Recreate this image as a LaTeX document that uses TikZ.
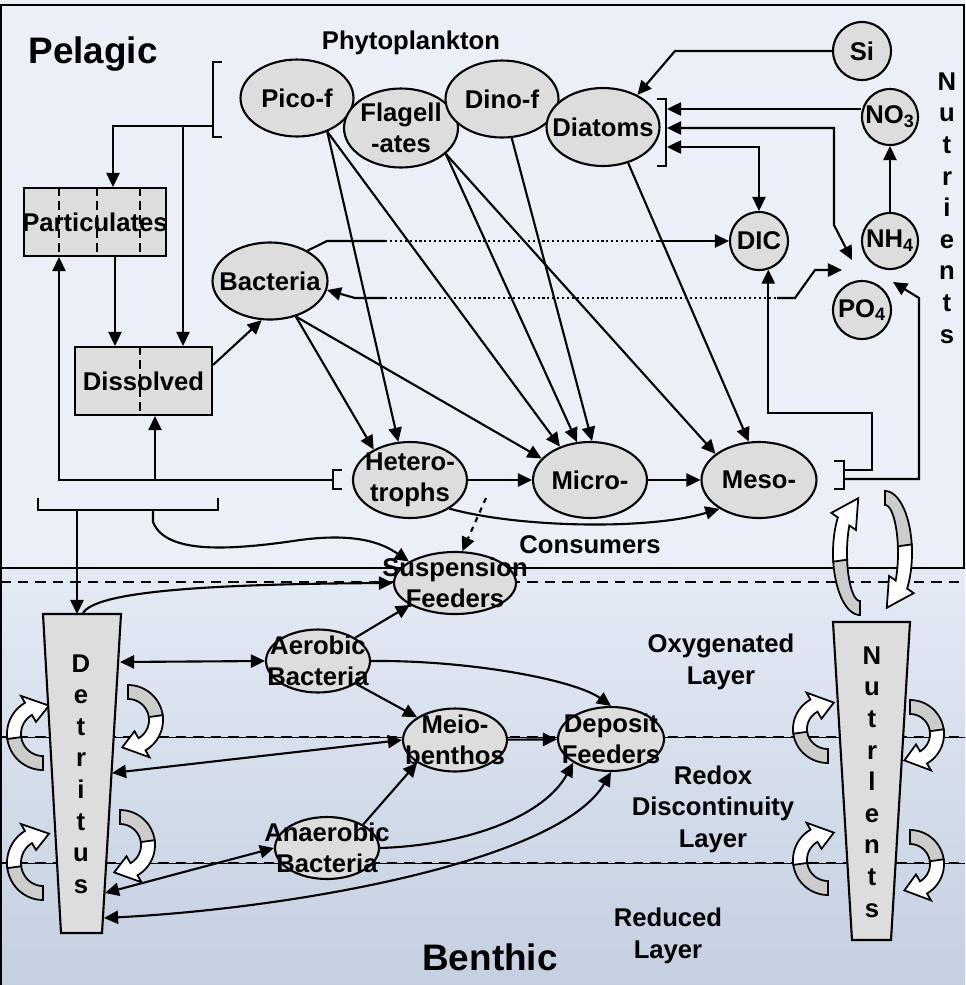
\documentclass[tikz,border=0pt]{standalone}
\usepackage{fontspec}
\setmainfont{Liberation Sans}
\usepackage{xcolor}
\usepackage{tikz}
\usetikzlibrary{arrows.meta,positioning,shapes.geometric,calc}

\definecolor{seawater}{RGB}{234,239,248}
\definecolor{mudtop}{RGB}{229,235,245}
\definecolor{mudbottom}{RGB}{196,207,224}
\definecolor{poolgrey}{RGB}{221,221,221}
\definecolor{tailgrey}{RGB}{204,204,204}

\tikzset{
  pics/swirl/.style n args={4}{code={
    \filldraw[fill=tailgrey, line width=1pt]
      plot[domain=180:90, samples=25] ({(#1+7)*cos(\x)},{(#2+7)*sin(\x)})
      -- plot[domain=90:180, samples=25] ({(#1-7)*cos(\x)},{(#2-7)*sin(\x)}) -- cycle;
    \filldraw[fill=white, line width=1pt]
      plot[domain=172:#3, samples=25] ({(#1+7)*cos(\x)},{(#2+7)*sin(\x)})
      -- ({(#1+15)*cos(#3)},{(#2+15)*sin(#3)})
      -- ({#1*cos(#4)},{#2*sin(#4)})
      -- ({(#1-15)*cos(#3)},{(#2-15)*sin(#3)})
      -- plot[domain=#3:172, samples=25] ({(#1-7)*cos(\x)},{(#2-7)*sin(\x)}) -- cycle;
  }}
}

\begin{document}
\begin{tikzpicture}[x=0.02cm, y=-0.02cm,
    txt/.style={font=\bfseries\fontsize{14.6}{18}\selectfont, align=center, inner sep=0pt},
    heading/.style={font=\bfseries\fontsize{21}{24}\selectfont, inner sep=0pt},
    organism/.style={ellipse, draw, line width=1.2pt, fill=poolgrey, inner sep=0pt},
    nutrient/.style={circle, draw, line width=1.2pt, fill=poolgrey, inner sep=0pt},
    pool/.style={rectangle, draw, line width=1.2pt, fill=poolgrey, inner sep=0pt},
    flow/.style={-{Triangle[length=8pt,width=7.5pt]}, line width=1.2pt},
    twoway/.style={{Triangle[length=8pt,width=7.5pt]}-{Triangle[length=8pt,width=7.5pt]}, line width=1.2pt},
    link/.style={line width=1.2pt},
    dotline/.style={line width=1.2pt, dash pattern=on 1.2pt off 1.6pt},
    divider/.style={line width=1.2pt, dash pattern=on 5pt off 3pt},
    bedline/.style={line width=1.2pt, dash pattern=on 6pt off 4pt}
]
\useasboundingbox (0,0) rectangle (965,985);
\fill[seawater] (0,0) rectangle (965,568);
\shade[top color=mudtop, bottom color=mudbottom] (0,568) rectangle (965,985);

\draw[line width=1.6pt] (1,5) rectangle (964,568);
\draw[line width=1.6pt] (1,568) -- (1,985);
\draw[bedline] (0,582) -- (965,582);
\draw[line width=0.5pt] (0,737) -- (965,737);
\draw[bedline] (0,737) -- (965,737);
\draw[line width=0.5pt] (0,863) -- (965,863);
\draw[bedline] (0,863) -- (965,863);

\pic at (860,553) {swirl={20}{55}{215}{265}};
\pic[rotate=180] at (885,553) {swirl={20}{55}{215}{265}};
\pic at (43,734) {swirl={29}{29}{240}{282}};
\pic[rotate=180] at (128,720) {swirl={28}{28}{240}{282}};
\pic at (43,863) {swirl={29}{30}{240}{282}};
\pic[rotate=180] at (120,845) {swirl={28}{28}{240}{282}};
\pic at (828,729) {swirl={28}{27}{240}{282}};
\pic[rotate=180] at (910,734) {swirl={27}{27}{240}{282}};
\pic at (828,860) {swirl={28}{28}{240}{282}};
\pic[rotate=180] at (910,864) {swirl={27}{27}{240}{282}};

\filldraw[fill=poolgrey, line width=1.2pt] (43,614) -- (121,614) -- (102,933) -- (61,933) -- cycle;
\filldraw[fill=poolgrey, line width=1.2pt] (833,622) -- (910,622) -- (891,940) -- (852,940) -- cycle;
\node[txt] (detritus) at (81,774) {D\\e\\t\\r\\i\\t\\u\\s};
\node[txt] (nutbed) at (872,782) {N\\u\\t\\r\\l\\e\\n\\t\\s};
\node[txt] (nutcol) at (947,208) {N\\u\\t\\r\\i\\e\\n\\t\\s};

\node[organism, minimum width=2.26cm, minimum height=1.54cm, label={[txt]center:Pico-f}] (pico) at (297,98) {};
\node[organism, minimum width=2.28cm, minimum height=1.58cm, label={[txt]center:Flagell\\-ates}] (flag) at (401,128) {};
\node[organism, minimum width=2.26cm, minimum height=1.54cm, label={[txt]center:Dino-f}] (dino) at (502,99) {};
\node[organism, minimum width=2.26cm, minimum height=1.56cm, label={[txt]center:Diatoms}] (diat) at (603,127) {};
\node[organism, minimum width=2.3cm, minimum height=1.54cm, label={[txt]center:Bacteria}] (bact) at (270,281) {};
\node[organism, minimum width=2.28cm, minimum height=1.52cm, label={[txt]center:Hetero-\\trophs}] (hetero) at (410,480) {};
\node[organism, minimum width=2.28cm, minimum height=1.52cm, label={[txt]center:Micro-}] (micro) at (590,480) {};
\node[organism, minimum width=2.3cm, minimum height=1.52cm, label={[txt]center:Meso-}] (meso) at (759,480) {};
\node[organism, minimum width=2.44cm, minimum height=1.24cm, label={[txt]center:Suspension\\Feeders}] (susp) at (455,583) {};
\node[organism, minimum width=2.08cm, minimum height=1.26cm, label={[txt]center:Aerobic\\Bacteria}] (aer) at (318,661) {};
\node[organism, minimum width=2.08cm, minimum height=1.26cm, label={[txt]center:Meio-\\benthos}] (meio) at (455,740) {};
\node[organism, minimum width=2.12cm, minimum height=1.28cm, label={[txt]center:Deposit\\Feeders}] (dep) at (611,739) {};
\node[organism, minimum width=2.08cm, minimum height=1.24cm, label={[txt]center:Anaerobic\\Bacteria}] (anaer) at (327,848) {};

\node[nutrient, minimum size=1.16cm, label={[txt]center:Si}] (si) at (862,51) {};
\node[nutrient, minimum size=1.12cm, label={[txt]center:NO\textsubscript{3}}] (no3) at (890,117) {};
\node[nutrient, minimum size=1.12cm, label={[txt]center:NH\textsubscript{4}}] (nh4) at (890,241) {};
\node[nutrient, minimum size=1.16cm, label={[txt]center:DIC}] (dic) at (759,241) {};
\node[nutrient, minimum size=1.16cm, label={[txt]center:PO\textsubscript{4}}] (po4) at (862,310) {};

\node[pool, minimum width=2.84cm, minimum height=1.36cm, label={[txt]center:Particulates}] (part) at (95,222) {};
\node[pool, minimum width=2.74cm, minimum height=1.36cm, label={[txt]center:Dissolved}] (diss) at (143.5,381) {};
\foreach \dx in {-0.72,0.04,0.9}
  \draw[divider] ([xshift=\dx cm]part.north) -- ([xshift=\dx cm]part.south);
\draw[divider] ([xshift=-0.07cm]diss.north) -- ([xshift=-0.07cm]diss.south);

\draw[link] (222,62) -- (213,62) -- (213,137) -- (222,137);
\coordinate (phyB) at (213,126);
\coordinate (phyC) at (183,126);
\draw[flow] (phyB) -| ([xshift=0.36cm]part.north);
\draw[flow] (phyC) -- (phyC |- diss.north);
\draw[flow] ([xshift=0.4cm]part.south) -- ([xshift=0.4cm]part.south |- diss.north);
\draw[flow] (diss.13) -- (bact.258);

\draw[link] (342,470) -- (333,470) -- (333,489) -- (342,489);
\coordinate (hetB) at (333,480);
\coordinate (hetC) at (155,480);
\draw[flow] (hetB) -| ([xshift=-0.72cm]part.south);
\draw[flow] (hetC) -- (hetC |- diss.south);

\draw[link] (38,498) -- (38,510) -- (218,510) -- (218,498);
\coordinate (podB) at (77,510);
\coordinate (podC) at (153,510);
\coordinate (dtop) at (77,614);
\coordinate (dcurl) at (83,613);
\draw[flow] (podB) -- (dtop);
\draw[flow] (podC) -- (153,522) .. controls (165,552) and (220,552) .. (300,540) .. controls (360,532) and (385,545) .. (susp.155);
\draw[flow] (dcurl) .. controls (96,592) and (200,584) .. (susp.west);

\draw[link] (657,99) -- (666,99) -- (666,166) -- (657,166);
\coordinate (dB1) at (667,109);
\coordinate (dB2) at (667,128);
\coordinate (dB3) at (667,147);
\coordinate (nutA) at (893,282);
\coordinate (nutB) at (852,260);
\coordinate (nutC) at (842,270);
\draw[flow] (si.west) -- (675,51) -- (diat.43);
\draw[flow] (no3.west |- dB1) -- (dB1);
\draw[twoway] (dB2) -| (834,225) -- (nutB);
\draw[twoway] (dB3) -| (dic.north);
\draw[flow] (nh4) -- (no3);

\coordinate (dotA) at (385,241);
\coordinate (dotB) at (657,241);
\coordinate (dotC) at (385,298);
\coordinate (dotD) at (777,298);
\draw[link] (bact.39) -- (327,241) -- (dotA);
\draw[dotline] (dotA) -- (dotB);
\draw[flow] (dotB) -- (dic.west);
\draw[flow] (dotC) -- (355,298) -- (bact.351);
\draw[dotline] (dotC) -- (dotD);
\draw[flow] (dotD) -- (795,298) -- (815,270) -- (nutC);

\draw[flow] (pico.312) -- (hetero.107);
\draw[flow] (pico.312) -- (micro.132);
\draw[flow] (flag.330) -- (micro.109);
\draw[flow] (flag.330) -- (meso.149);
\draw[flow] (dino.284) -- (micro.87);
\draw[flow] (diat.305) -- (meso.105);
\draw[flow] (bact.306) -- (hetero.140);
\draw[flow] (bact.306) -- (micro.156);
\draw[flow] (hetero) -- (micro);
\draw[flow] (micro) -- (meso);
\draw[flow] (hetero.324) .. controls (520,528) and (650,530) .. (meso.216);
\coordinate (hdash) at (486,498);
\draw[flow, dashed] (hdash) -- (susp.77);

\draw[link] (834,461) -- (844,461) -- (844,489) -- (834,489);
\coordinate (mB1) at (844,470);
\coordinate (mB2) at (844,479);
\draw[flow] (mB1) -| (872,413) -| (dic.288);
\draw[flow] (mB2) -| (919,298) -- (nutA);

\coordinate (dR1) at (120,662);
\coordinate (dR2) at (112,773);
\coordinate (dR3) at (105,893);
\coordinate (dR4) at (104,918);
\draw[twoway] (dR1) -- (aer.west);
\draw[twoway] (dR2) -- (meio.west);
\draw[twoway] (dR3) -- (anaer.west);
\draw[twoway] (dR4) .. controls (300,908) and (560,860) .. (dep.south);
\draw[flow] (aer.32) -- (susp.206);
\draw[flow] (aer.329) -- (meio.149);
\draw[flow] (aer.east) .. controls (470,660) and (575,680) .. (dep.north);
\draw[flow] (meio) -- (dep);
\draw[flow] (anaer.33) -- (meio.211);
\draw[flow] (anaer.east) .. controls (470,845) and (545,815) .. (dep.212);

\node[heading, anchor=base] (pelagic) at (93,63) {Pelagic};
\node[heading, anchor=base] (benthic) at (490,970) {Benthic};
\node[txt, anchor=base] (phyto) at (411,49) {Phytoplankton};
\node[txt, anchor=base] (consumers) at (590,553) {Consumers};
\node[txt] (oxy) at (721,662) {Oxygenated\\Layer};
\node[txt] (redox) at (713,809) {Redox\\Discontinuity\\Layer};
\node[txt] (reduced) at (668,936) {Reduced\\Layer};
\end{tikzpicture}
\end{document}
